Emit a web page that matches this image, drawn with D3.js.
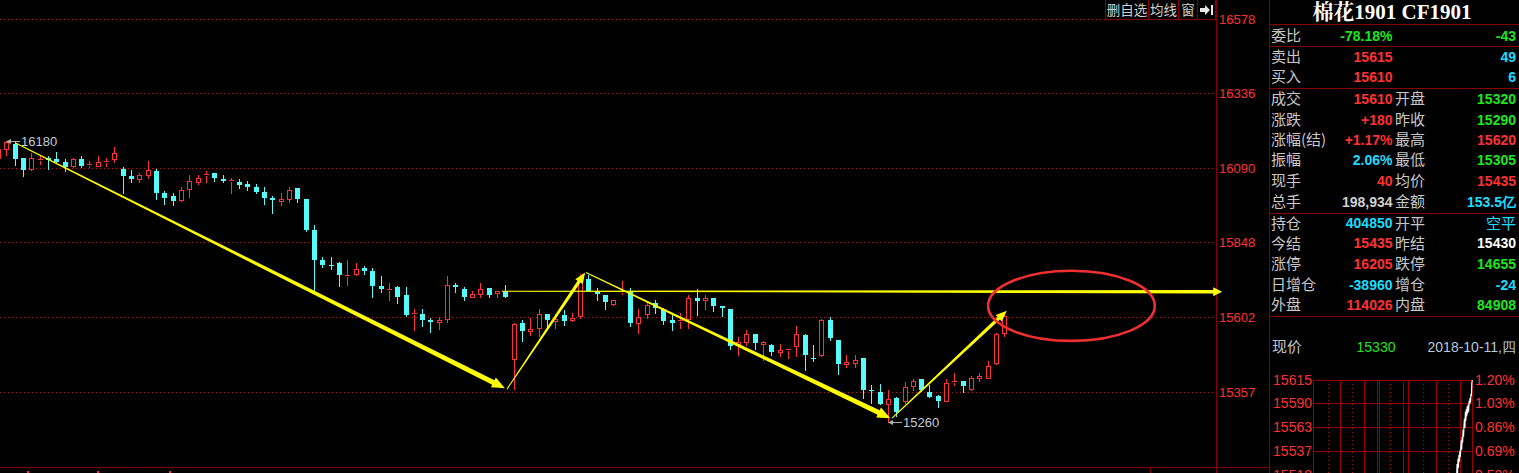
<!DOCTYPE html>
<html><head><meta charset="utf-8">
<script src="https://cdn.jsdelivr.net/npm/d3@7"></script>
<style>html,body{margin:0;padding:0;background:#000;overflow:hidden}</style>
</head><body><svg id="c" width="1519" height="473"></svg>
<script>
// ---------------- DATA ----------------
const opens  = [16125,16155,16170,16123,16087,16118,16123,16121,16111,16098,16121,16101,16099,16110,16122,16088,16065,16055,16068,16080,16010,16000,15985,16022,16047,16068,16076,16055,16050,16045,16038,16030,16014,15993,15982,15990,16025,15990,15889,15790,15775,15780,15736,15745,15763,15754,15706,15692,15700,15676,15612,15614,15592,15588,15597,15708,15695,15668,15680,15698,15683,15687,15465,15583,15557,15567,15613,15590,15610,15592,15605,15727,15687,15676,15645,15685,15687,15583,15612,15648,15628,15594,15590,15596,15665,15660,15665,15640,15628,15515,15520,15548,15515,15510,15488,15494,15508,15545,15470,15478,15594,15528,15450,15453,15470,15365,15357,15318,15337,15327,15376,15400,15358,15343,15327,15390,15395,15367,15405,15405,15452,15550];
const highs  = [16160,16180,16175,16125,16140,16135,16130,16144,16120,16125,16130,16115,16130,16125,16160,16095,16085,16075,16115,16088,16015,16008,16030,16068,16070,16080,16076,16068,16058,16055,16048,16040,16028,16000,16010,16030,16025,15990,15905,15800,15800,15782,15790,15780,15770,15763,15738,15715,15705,15700,15628,15628,15600,15603,15739,15715,15700,15688,15715,15698,15690,15708,15583,15594,15600,15628,15613,15613,15625,15616,15745,15740,15697,15676,15660,15720,15697,15628,15655,15660,15632,15610,15615,15676,15694,15676,15665,15640,15628,15538,15560,15548,15525,15515,15516,15500,15573,15548,15510,15597,15602,15528,15480,15480,15470,15380,15384,15365,15340,15392,15400,15400,15380,15348,15400,15420,15395,15410,15420,15460,15550,15620];
const lows   = [16118,16135,16100,16065,16085,16105,16088,16110,16080,16095,16095,16095,16098,16098,16112,16010,16045,16045,16060,15990,15973,15970,15983,15995,16040,16047,16050,16045,16010,16025,16020,16010,15973,15943,15970,15980,15980,15885,15686,15766,15760,15705,15708,15740,15745,15670,15686,15660,15650,15605,15561,15575,15555,15565,15586,15685,15660,15668,15668,15668,15668,15670,15367,15526,15545,15540,15567,15567,15577,15590,15600,15688,15660,15630,15643,15678,15575,15550,15600,15615,15580,15560,15567,15567,15610,15630,15622,15605,15498,15480,15510,15500,15463,15478,15475,15470,15475,15430,15460,15475,15528,15415,15440,15440,15338,15320,15318,15260,15280,15320,15365,15360,15340,15310,15327,15380,15357,15365,15395,15402,15450,15540];
const closes = [16152,16175,16120,16085,16123,16122,16116,16112,16096,16121,16098,16106,16111,16114,16140,16065,16055,16068,16085,16010,15993,15983,16020,16049,16058,16072,16058,16048,16053,16035,16028,16013,15993,15985,15990,16020,15990,15889,15790,15775,15770,15740,15740,15760,15755,15705,15695,15696,15670,15610,15615,15593,15588,15592,15708,15700,15670,15678,15695,15676,15687,15670,15580,15557,15565,15613,15594,15597,15590,15601,15727,15690,15677,15652,15658,15690,15585,15602,15643,15632,15590,15585,15595,15665,15657,15664,15640,15632,15508,15520,15548,15518,15520,15490,15495,15498,15548,15478,15465,15594,15534,15450,15455,15463,15365,15360,15318,15335,15293,15375,15395,15365,15340,15327,15388,15395,15376,15403,15410,15442,15548,15605];

const priceTicks = [16578, 16336, 16090, 15848, 15602, 15357];
const priceDomain = [15112, 16578];
const dateTickIdx = [3.5, 11.9, 20.6];

// annotations in (bar index, price)
const arrows = [
  {from:[2.05,16174], to:[60.96,15370], w0:1, w1:5,   head:13, headW:11},
  {from:[61.2,15367], to:[70.6,15749],  w0:1, w1:3.5, head:11, headW:9},
  {from:[70.7,15749], to:[107.3,15272], w0:1, w1:5,   head:13, headW:11},
  {from:[60.6,15688], to:[147.2,15686], w0:1, w1:3.5, head:9,  headW:9},
  {from:[107.5,15272],to:[121.3,15624], w0:1, w1:3.5, head:11, headW:9}
];
const ellipseBox = {i0:119.05, i1:139.1, p0:15525, p1:15755};

const toolbarLabels = ["删自选","均线","窗"];
const title = "棉花1901 CF1901";
const labelsA = ["委比","卖出","买入","成交","涨跌","涨幅(结)","振幅","现手","总手","持仓","今结","涨停","日增仓","外盘"];
const valuesA = ["-78.18%","15615","15610","15610","+180","+1.17%","2.06%","40","198,934","404850","15435","16205","-38960","114026"];
const labelsB = ["","","","开盘","昨收","最高","最低","均价","金额","开平","昨结","跌停","增仓","内盘"];
const valuesB = ["-43","49","6","15320","15290","15620","15305","15435","153.5亿","空平","15430","14655","-24","84908"];
const kindA = ["g","r","r","r","r","r","c","r","w","c","r","r","c","r"];
const kindB = ["g","c","c","g","g","r","g","r","c","c","W","g","c","g"];
const lastLabel = "现价", lastPrice = "15330", lastDate = "2018-10-11,四";

const miniTicks = [15615, 15590, 15563, 15537, 15510];
const miniPct = ["1.20%","1.03%","0.86%","0.69%","0.52%"];
const miniGrid = [[0,"s"],[31,"d"],[57,"s"],[83,"d"],[110,"s"],[139,"s"],[143,"s"],[166,"d"],[194,"s"],[206,"s"],[237,"d"],[266,"s"],[293,"d"],[318,"s"],[345,"s"]];
const miniTimes  = [311,312,313,314,315,316,317,318,319,320,321,322,323,324,325,326,327,328,329,330,331,332,333,334,335,336,337,338,339,340,341,342,343,344,345];
const miniPrices = [15508,15522,15512,15528,15518,15532,15525,15537,15530,15540,15548,15538,15552,15546,15560,15552,15565,15572,15562,15580,15570,15583,15575,15586,15578,15588,15580,15592,15588,15595,15590,15598,15597,15612,15615];

// ---------------- STYLE ----------------
const RED = "#ff3232", CYAN = "#54fcfc", GREEN = "#1ee61e", DARK = "#840000", GRID = "#b01818";
const colorOf = {r:RED, g:GREEN, c:"#1edcff", w:"#d0d0d0", W:"#ffffff"};
const NUM = "'Liberation Sans', Arial, sans-serif";
const CJK = "'Noto Sans CJK SC', 'Noto Sans', sans-serif";

const svg = d3.select("#c");
svg.append("rect").attr("width",1519).attr("height",473).attr("fill","#000");

const chartRight = 1216, panelLeft = 1269, chartBottom = 467;
const x = d3.scaleLinear().domain([0, opens.length-1]).range([-2, 1004.3]);
const y = d3.scaleLinear().domain(priceDomain).range([chartBottom, 19.4]);

// grid
const g = svg.append("g");
g.selectAll("line.grid").data(priceTicks).join("line")
  .attr("x1",0).attr("x2",chartRight).attr("y1",d=>Math.round(y(d))+0.5).attr("y2",d=>Math.round(y(d))+0.5)
  .attr("stroke",GRID).attr("stroke-dasharray","1 3");
// axis labels
g.selectAll("text.ax").data(priceTicks).join("text")
  .attr("x",chartRight+3).attr("y",d=>y(d)).attr("dy","0.36em")
  .attr("font-family",NUM).attr("font-size",13).attr("fill",RED).text(d=>d);

// frame lines
const line = (x1,y1,x2,y2,c=DARK)=>svg.append("line").attr("x1",x1).attr("y1",y1).attr("x2",x2).attr("y2",y2).attr("stroke",c).attr("stroke-width",1);
line(chartRight+0.5,0,chartRight+0.5,473);
line(panelLeft+0.5,0,panelLeft+0.5,473);
line(0,chartBottom+0.5,panelLeft,chartBottom+0.5);
line(1150.5,chartBottom,1150.5,473);
dateTickIdx.forEach(i=>svg.append("rect").attr("x",Math.round(x(i))).attr("y",471).attr("width",2).attr("height",2).attr("fill",RED));

// candles
const cg = svg.append("g");
opens.forEach((o,i)=>{
  const c = closes[i], h = highs[i], l = lows[i];
  const cx = Math.round(x(i));
  const up = c >= o;
  let yt = Math.round(y(Math.max(o,c))), yb = Math.round(y(Math.min(o,c)));
  if (yb - yt < 1) yb = yt + 1;
  const yh = Math.round(y(h)), yl = Math.round(y(l));
  const col = up ? RED : CYAN;
  const wick = (a,b)=>{ if (b>a) cg.append("line").attr("x1",cx+0.5).attr("x2",cx+0.5).attr("y1",a).attr("y2",b).attr("stroke",col); };
  if (up) {
    wick(yh, yt); wick(yb+1, yl+1);
    if (yb - yt <= 1) {
      cg.append("rect").attr("x",cx-2).attr("y",yt).attr("width",5).attr("height",1).attr("fill",col);
    } else {
      cg.append("rect").attr("x",cx-2+0.5).attr("y",yt+0.5).attr("width",4).attr("height",yb-yt)
        .attr("fill","#000").attr("stroke",col);
    }
  } else {
    wick(yh, yl+1);
    cg.append("rect").attr("x",cx-2).attr("y",yt).attr("width",5).attr("height",Math.max(yb-yt,1)).attr("fill",col);
  }
});

// extreme labels
function extremeLabel(i, price, yy){
  const cx = Math.round(x(i)), py = Math.round(y(price)) + 0.5 + (yy||0);
  svg.append("line").attr("x1",cx+2).attr("x2",cx+14).attr("y1",py).attr("y2",py).attr("stroke","#b0b0b0");
  svg.append("path").attr("d",`M${cx},${py} L${cx+5},${py-2.5} L${cx+5},${py+2.5} Z`).attr("fill","#b0b0b0");
  svg.append("text").attr("x",cx+15).attr("y",py).attr("dy","0.36em").attr("font-family",NUM).attr("font-size",13)
    .attr("fill","#c4ccd6").text(price);
}
const iMax = d3.maxIndex(highs), iMin = d3.minIndex(lows);
extremeLabel(iMax, highs[iMax], 0);
extremeLabel(iMin, lows[iMin], 0);

// tapered arrows
const ag = svg.append("g");
arrows.forEach(a=>{
  const x1 = x(a.from[0]), y1 = y(a.from[1]), x2 = x(a.to[0]), y2 = y(a.to[1]);
  const dx = x2-x1, dy = y2-y1, L = Math.hypot(dx,dy), ux = dx/L, uy = dy/L, nx = -uy, ny = ux;
  const ex = x2 - ux*a.head, ey = y2 - uy*a.head;
  const pts = [
    [x1+nx*a.w0/2, y1+ny*a.w0/2],
    [ex+nx*a.w1/2, ey+ny*a.w1/2],
    [ex+nx*a.headW/2, ey+ny*a.headW/2],
    [x2, y2],
    [ex-nx*a.headW/2, ey-ny*a.headW/2],
    [ex-nx*a.w1/2, ey-ny*a.w1/2],
    [x1-nx*a.w0/2, y1-ny*a.w0/2]
  ];
  ag.append("path").attr("d","M"+pts.map(p=>p.join(",")).join("L")+"Z").attr("fill","#ffff00");
});
// ellipse
{
  const ex0 = x(ellipseBox.i0), ex1 = x(ellipseBox.i1), ey0 = y(ellipseBox.p1), ey1 = y(ellipseBox.p0);
  svg.append("ellipse").attr("cx",(ex0+ex1)/2).attr("cy",(ey0+ey1)/2).attr("rx",(ex1-ex0)/2).attr("ry",(ey1-ey0)/2)
    .attr("fill","none").attr("stroke","#f03030").attr("stroke-width",2.6);
}

// toolbar
const tbX = [1105, 1148, 1178, 1197, 1215];
svg.append("rect").attr("x",tbX[0]+0.5).attr("y",-1).attr("width",tbX[4]-tbX[0]).attr("height",20.5).attr("fill","#000").attr("stroke",DARK);
tbX.slice(1,4).forEach(v=>line(v+0.5,0,v+0.5,19));
toolbarLabels.forEach((t,k)=>{
  svg.append("text").attr("x",(tbX[k]+tbX[k+1])/2+0.5).attr("y",10).attr("dy","0.36em").attr("text-anchor","middle")
    .attr("font-family",CJK).attr("font-size",13.5).attr("fill","#d0d0d0").text(t);
});
svg.append("path").attr("d","M1200,8 L1205,8 L1205,5 L1210,10 L1205,15 L1205,12 L1200,12 Z M1211,5 L1213,5 L1213,15 L1211,15 Z").attr("fill","#e8e8e8");

// right panel
svg.append("text").attr("x",1392).attr("y",19).attr("text-anchor","middle")
  .attr("font-family","'Liberation Serif', 'Noto Serif CJK SC', 'Noto Sans CJK SC', serif").attr("font-weight","bold")
  .attr("font-size",21).attr("fill","#ffffff").text(title);
[24.5, 46.5, 88.5, 213.5, 316.5].forEach(v=>line(panelLeft, v, 1519, v));
const rowY = [36, 56.7, 76.7, 98.7, 119.5, 140, 160, 180.7, 201.7, 223.3, 243.3, 264, 285, 305];
labelsA.forEach((t,k)=>{
  const yy = rowY[k];
  svg.append("text").attr("x",1271).attr("y",yy).attr("dy","0.36em").attr("font-family",CJK).attr("font-size",15).attr("fill","#c8c8c8").text(t);
  svg.append("text").attr("x",1392.5).attr("y",yy).attr("dy","0.36em").attr("text-anchor","end").attr("font-family",NUM).attr("font-weight","bold").attr("font-size",14).attr("fill",colorOf[kindA[k]]).text(valuesA[k]);
  if (labelsB[k]) svg.append("text").attr("x",1395).attr("y",yy).attr("dy","0.36em").attr("font-family",CJK).attr("font-size",15).attr("fill","#c8c8c8").text(labelsB[k]);
  const vb = valuesB[k], isCjk = /[\u4e00-\u9fff]/.test(vb) && !/\d/.test(vb);
  svg.append("text").attr("x",1516).attr("y",yy).attr("dy","0.36em").attr("text-anchor","end")
    .attr("font-family", isCjk ? CJK : NUM).attr("font-weight", isCjk ? "normal" : "bold").attr("font-size", isCjk ? 15 : 14)
    .attr("fill",colorOf[kindB[k]]).text(vb);
});

svg.append("text").attr("x",1272).attr("y",346.5).attr("dy","0.36em").attr("font-family",CJK).attr("font-size",15).attr("fill","#c8c8c8").text(lastLabel);
svg.append("text").attr("x",1376).attr("y",346.5).attr("dy","0.36em").attr("text-anchor","middle").attr("font-family",NUM).attr("font-size",14).attr("fill",GREEN).text(lastPrice);
svg.append("text").attr("x",1516).attr("y",346.5).attr("dy","0.36em").attr("text-anchor","end").attr("font-family",NUM).attr("font-size",14).attr("fill","#b8c8dc").text(lastDate);

// mini chart
const mx = d3.scaleLinear().domain([0,345]).range([1313.3,1472.3]);
const my = d3.scaleLinear().domain([15510,15615]).range([475,380]);
const mg = svg.append("g");
miniGrid.forEach(([m,t])=>{
  const xx = Math.round(mx(m))+0.5;
  mg.append("line").attr("x1",xx).attr("x2",xx).attr("y1",380).attr("y2",473)
    .attr("stroke", t==="s" ? "#9a0000" : "#a01010").attr("stroke-dasharray", t==="s" ? null : "1 3");
});
miniTicks.forEach((p,k)=>{
  const yy = Math.round(my(p))+0.5;
  mg.append("line").attr("x1",mx(0)).attr("x2",mx(345)).attr("y1",yy).attr("y2",yy).attr("stroke","#9a0000");
  mg.append("text").attr("x",1312).attr("y",my(p)).attr("dy","0.36em").attr("text-anchor","end").attr("font-family",NUM).attr("font-size",14).attr("fill",RED).text(p);
  mg.append("text").attr("x",1475).attr("y",my(p)).attr("dy","0.36em").attr("font-family",NUM).attr("font-size",14).attr("fill",RED).text(miniPct[k]);
});
mg.append("path").datum(miniTimes.map((t,k)=>[t,miniPrices[k]]))
  .attr("d",d3.line().x(d=>mx(d[0])).y(d=>my(d[1])))
  .attr("fill","none").attr("stroke","#ffffff").attr("stroke-width",1.2);
</script>
</body></html>
